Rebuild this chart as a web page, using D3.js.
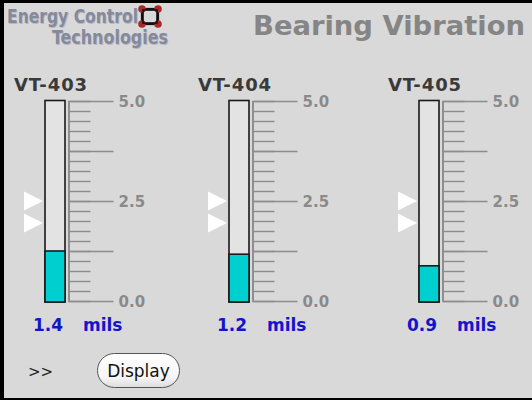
<!DOCTYPE html>
<html><head><meta charset="utf-8">
<script src="https://cdn.jsdelivr.net/npm/d3@7"></script>
<style>
html,body{margin:0;padding:0;background:#d9d9d9;overflow:hidden}
svg{display:block}
text{font-family:"DejaVu Sans",Verdana,sans-serif}
</style></head>
<body>
<svg id="chart" width="532" height="400"></svg>
<script>
// ---- data ----
const tags = ["VT-403", "VT-404", "VT-405"];
const readings = ["1.4", "1.2", "0.9"];          // displayed values (mils)
const levels = [1.25, 1.17, 0.88];               // bar fill levels as drawn
const alarmHigh = [2.5, 2.5, 2.5];               // upper marker
const alarmLow = [1.95, 1.95, 1.95];             // lower marker
const unit = "mils";
const scaleDomain = [0, 5];
const labelTicks = [0, 2.5, 5];
const majorTicks = [0, 1.25, 2.5, 3.75, 5];
const minorTicks = d3.range(0, 5.001, 0.25);
const title = "Bearing Vibration";

// ---- layout ----
const W = 532, H = 400;
const gaugeX = [45, 229, 419];      // tube left edges
const tubeW = 20;
const svg = d3.select("#chart");

svg.append("rect").attr("width", W).attr("height", H).attr("fill", "#d9d9d9");

const y = d3.scaleLinear().domain(scaleDomain).range([301, 101]);

// title
svg.append("text").attr("x", 525).attr("y", 35).attr("text-anchor", "end")
  .attr("font-size", 27.4).attr("font-weight", "bold").attr("fill", "#858585")
  .text(title);

// logo
const logo = svg.append("g");
const logoFont = "'DejaVu Sans Condensed','Liberation Sans Narrow',sans-serif";
[["Energy Control", 7, 23, 131], ["Technologies", 52, 44, 116]].forEach(([t, x, yy, len]) => {
  logo.append("text").attr("x", x + 0.8).attr("y", yy + 0.8)
    .attr("font-family", logoFont).attr("font-stretch", "condensed")
    .attr("font-size", 19.5).attr("font-weight", "bold").attr("fill", "#b8b8c4")
    .attr("textLength", len).attr("lengthAdjust", "spacingAndGlyphs").text(t);
  logo.append("text").attr("x", x).attr("y", yy)
    .attr("font-family", logoFont).attr("font-stretch", "condensed")
    .attr("font-size", 19.5).attr("font-weight", "bold").attr("fill", "#848a9c")
    .attr("textLength", len).attr("lengthAdjust", "spacingAndGlyphs").text(t);
});
logo.append("rect").attr("x", 142).attr("y", 9).attr("width", 16).attr("height", 15)
  .attr("fill", "none").attr("stroke", "#111").attr("stroke-width", 2.2);
[[142,9],[158,9],[142,24],[158,24]].forEach(([cx,cy]) => {
  logo.append("circle").attr("cx", cx).attr("cy", cy).attr("r", 3.8).attr("fill", "#a82828");
});
logo.append("rect").attr("x", 143).attr("y", 10).attr("width", 14).attr("height", 13)
  .attr("fill", "none").attr("stroke", "#111").attr("stroke-width", 1.6);

// gauges
tags.forEach((tag, i) => {
  const gx = gaugeX[i];
  const g = svg.append("g");
  const axisX = gx + tubeW + 3.5;

  g.append("text").attr("x", gx - 31).attr("y", 91)
    .attr("font-size", 18).attr("font-weight", "bold").attr("fill", "#3a3a3a")
    .attr("letter-spacing", 0.9).text(tag);

  // tube
  g.append("rect").attr("x", gx).attr("y", y(5) - 0.5).attr("width", tubeW)
    .attr("height", y(0) - y(5) + 1.5)
    .attr("fill", "#e3e3e3").attr("stroke", "#1a1a1a").attr("stroke-width", 1.6);
  g.append("rect").attr("x", gx).attr("y", y(levels[i])).attr("width", tubeW)
    .attr("height", y(0) + 1 - y(levels[i]))
    .attr("fill", "#00cfcf").attr("stroke", "#1a1a1a").attr("stroke-width", 1.6);

  // scale
  const minorAxis = d3.axisRight(y).tickValues(minorTicks).tickSize(22).tickFormat("");
  const ma = g.append("g").attr("transform", `translate(${axisX},0)`).call(minorAxis);
  const majorAxis = d3.axisRight(y).tickValues(majorTicks).tickSize(45)
    .tickFormat(d => labelTicks.includes(d) ? d3.format(".1f")(d) : "");
  const mj = g.append("g").attr("transform", `translate(${axisX},0)`).call(majorAxis);
  [ma, mj].forEach(a => {
    a.select(".domain").attr("stroke", "#8c8c8c").attr("stroke-width", 1.6)
      .attr("d", `M0.5,${y(5)}V${y(0)}`);
    a.selectAll(".tick line").attr("stroke", "#8c8c8c").attr("stroke-width", 1.4);
    a.selectAll(".tick text").attr("x", 50).attr("font-size", 15).attr("font-weight", "bold")
      .attr("fill", "#8a8a8a").attr("font-family", "'DejaVu Sans',sans-serif").attr("dy", "0.35em");
  });

  // alarm markers
  [alarmHigh[i], alarmLow[i]].forEach(v => {
    const cy = y(v);
    g.append("path").attr("d", `M${gx - 21},${cy - 9.5}L${gx - 2},${cy}L${gx - 21},${cy + 9.5}Z`)
      .attr("fill", "#ffffff");
  });

  // value
  g.append("text").attr("x", gx - 12).attr("y", 331)
    .attr("font-size", 17).attr("font-weight", "bold").attr("fill", "#1414c8")
    .text(readings[i]);
  g.append("text").attr("x", gx + 38).attr("y", 331)
    .attr("font-size", 17).attr("font-weight", "bold").attr("fill", "#1414c8")
    .text(unit);
});

// bottom controls
svg.append("text").attr("x", 28).attr("y", 377).attr("font-size", 15).attr("fill", "#222").text(">>");
const defs = svg.append("defs");
const grad = defs.append("linearGradient").attr("id", "btn").attr("x1", 0).attr("y1", 0).attr("x2", 0).attr("y2", 1);
grad.append("stop").attr("offset", "0%").attr("stop-color", "#ffffff");
grad.append("stop").attr("offset", "70%").attr("stop-color", "#f6f6f6");
grad.append("stop").attr("offset", "100%").attr("stop-color", "#dcdcdc");
svg.append("rect").attr("x", 97.5).attr("y", 353.5).attr("width", 82).attr("height", 34).attr("rx", 17)
  .attr("fill", "url(#btn)").attr("stroke", "#555").attr("stroke-width", 1);
svg.append("text").attr("x", 138.5).attr("y", 377).attr("text-anchor", "middle")
  .attr("font-size", 17).attr("fill", "#111").text("Display");

// frame
svg.append("rect").attr("x", 0).attr("y", 0).attr("width", W).attr("height", 3).attr("fill", "#000");
svg.append("rect").attr("x", 0).attr("y", 0).attr("width", 4).attr("height", H).attr("fill", "#000");
svg.append("rect").attr("x", 0).attr("y", H - 2).attr("width", W).attr("height", 2).attr("fill", "#000");
</script>
</body></html>
